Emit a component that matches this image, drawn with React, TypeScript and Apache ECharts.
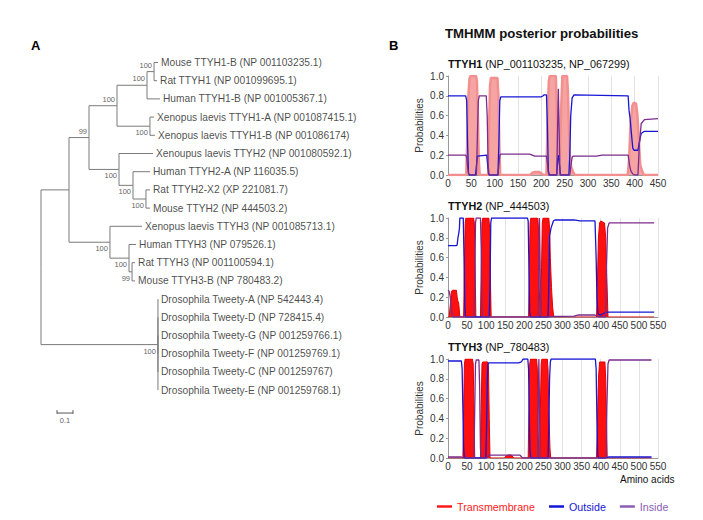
import React, { useEffect, useRef } from "react";
import * as echarts from "echarts";

// ---------- Panel A: phylogenetic tree ----------
const leafNames = [
  "Mouse TTYH1-B (NP 001103235.1)",
  "Rat TTYH1 (NP 001099695.1)",
  "Human TTYH1-B (NP 001005367.1)",
  "Xenopus laevis TTYH1-A (NP 001087415.1)",
  "Xenopus laevis TTYH1-B (NP 001086174)",
  "Xenoupus laevis TTYH2 (NP 001080592.1)",
  "Human TTYH2-A (NP 116035.5)",
  "Rat TTYH2-X2 (XP 221081.7)",
  "Mouse TTYH2 (NP 444503.2)",
  "Xenopus laevis TTYH3 (NP 001085713.1)",
  "Human TTYH3 (NP 079526.1)",
  "Rat TTYH3 (NP 001100594.1)",
  "Mouse TTYH3-B (NP 780483.2)",
  "Drosophila Tweety-A (NP 542443.4)",
  "Drosophila Tweety-D (NP 728415.4)",
  "Drosophila Tweety-G (NP 001259766.1)",
  "Drosophila Tweety-F (NP 001259769.1)",
  "Drosophila Tweety-C (NP 001259767)",
  "Drosophila Tweety-E (NP 001259768.1)",
];
const leafParents = ["A", "A", "B", "C", "C", "E", "F", "G", "G", "I", "J", "K", "K", "L", "L", "L", "L", "L", "L"];
const leafLengths = [0.025, 0.019, 0.081, 0.025, 0.031, 0.2125, 0.106, 0.025, 0.025, 0.2, 0.044, 0.019, 0.019, 0, 0, 0, 0, 0, 0];
const cladeIds = ["A", "B", "C", "D", "E", "F", "G", "H", "I", "J", "K", "L", "M"];
const cladeParents = ["B", "D", "D", "H", "H", "E", "F", "M", "M", "I", "J", "root", "root"];
const cladeLengths = [0.044, 0.1875, 0.206, 0.175, 0.1875, 0.0875, 0.081, 0.125, 0.256, 0.119, 0.019, 0.731, 0.175];
const cladeSupport: (number | null)[] = [100, 100, 100, 100, 100, 100, 100, 99, 100, 100, 99, 100, null];
const scaleBarLength = 0.1;
const scaleBarLabel = "0.1";

// ---------- Panel B: TMHMM posterior probabilities ----------
type P = [number, number][];
const xTicks1 = [0, 450, 50];
const xTicks23 = [0, 550, 50];

const tm1: P = [[0,0],[39,0],[41,0.3],[43,0.75],[46,0.97],[48,1],[60,1],[62,0.95],[64,0.6],[66,0.15],[68,0],[86,0],[88,0.5],[90,0.9],[92,0.98],[106,0.98],[108,0.8],[110,0.3],[112,0],[176,0],[180,0.02],[186,0.03],[196,0.03],[202,0.01],[205,0],[211,0],[213,0.5],[216,0.95],[218,1],[231,1],[233,0.7],[235,0.25],[237,0.1],[240,0.2],[242,0.6],[245,1],[255,1],[257,0.85],[259,0.5],[261,0.2],[264,0.08],[268,0.03],[272,0],[385,0],[388,0.15],[391,0.5],[395,0.7],[398,0.73],[403,0.72],[406,0.6],[409,0.35],[412,0.1],[416,0.04],[420,0],[450,0]];
const outside1: P = [[0,0.8],[38,0.8],[40,0.75],[42,0.3],[44,0.02],[46,0],[59,0],[61,0.1],[63,0.19],[83,0.2],[85,0.1],[87,0.01],[89,0],[107,0],[109,0.3],[111,0.75],[113,0.79],[200,0.79],[204,0.8],[206,0.81],[211,0.81],[213,0.5],[215,0.05],[217,0],[233,0],[235,0.15],[237,0.2],[239,0.1],[241,0],[259,0],[261,0.2],[263,0.6],[266,0.78],[270,0.81],[386,0.8],[388,0.65],[390,0.58],[393,0.42],[396,0.27],[399,0.25],[407,0.25],[410,0.33],[414,0.42],[420,0.44],[450,0.44]];
const inside1: P = [[0,0.2],[38,0.2],[40,0.18],[42,0.08],[44,0.01],[46,0],[61,0],[63,0.4],[65,0.75],[67,0.8],[82,0.8],[84,0.6],[86,0.1],[88,0],[107,0],[109,0.1],[111,0.2],[113,0.21],[175,0.21],[186,0.19],[211,0.19],[213,0.12],[215,0.02],[217,0],[233,0],[235,0.5],[236.5,0.87],[238,0.5],[240,0],[261,0],[263,0.08],[266,0.18],[268,0.19],[318,0.19],[330,0.2],[386,0.2],[389,0.1],[392,0.04],[396,0.01],[400,0],[407,0],[410,0.3],[414,0.52],[421,0.56],[450,0.57]];

const tm2: P = [[0,0],[3,0],[6,0.12],[9,0.26],[12,0.27],[22,0.27],[24,0.2],[26,0.16],[28,0.14],[30,0.05],[31,0],[41,0],[43,0.5],[45,0.95],[47,1],[67,1],[69,0.95],[71,0.5],[73,0],[85,0],[87,0.5],[89,0.95],[91,1],[107,1],[109,0.9],[111,0.4],[113,0],[211,0],[213,0.5],[215,0.95],[217,1],[235,1],[237,0.9],[239,0.3],[241,0],[243,0],[245,0.5],[247,0.95],[249,1],[264,1],[266,0.9],[268,0.6],[271,0.3],[274,0.1],[277,0],[389,0],[391,0.3],[394,0.8],[397,0.95],[400,0.97],[410,0.95],[413,0.8],[416,0.4],[419,0],[540,0]];
const outside2: P = [[0,0.72],[22,0.72],[24,0.73],[26,0.8],[28,0.84],[30,0.9],[31,1],[40,1],[42,0.6],[44,0.1],[46,0],[108,0],[110,0.3],[112,0.95],[114,1],[208,1],[210,0.97],[212,0.5],[214,0.05],[216,0],[262,0],[264,0.3],[266,0.82],[270,0.9],[276,0.97],[280,0.98],[330,0.98],[345,0.97],[385,0.97],[388,0.6],[390,0.2],[393,0.03],[398,0.02],[405,0.03],[410,0.04],[415,0.05],[540,0.05]];
const inside2: P = [[0,0.27],[3,0.26],[6,0.2],[9,0.08],[12,0],[68,0],[70,0.3],[72,0.95],[74,1],[85,1],[87,0.7],[89,0.1],[91,0],[236,0],[238,0.5],[239.5,1],[241,0.6],[243,0.05],[245,0],[265,0],[275,0.005],[330,0.008],[340,0.02],[385,0.02],[390,0.01],[394,0],[413,0],[415,0.5],[418,0.9],[422,0.95],[540,0.95]];

const tm3: P = [[0,0],[39,0],[41,0.5],[43,0.95],[45,1],[64,1],[66,0.95],[68,0.5],[70,0],[85,0],[87,0.5],[89,0.95],[91,0.97],[104,0.97],[106,0.9],[108,0.4],[110,0],[148,0],[152,0.02],[158,0.03],[166,0.03],[170,0.01],[173,0],[210,0],[212,0.5],[214,0.95],[216,1],[232,1],[234,0.9],[236,0.3],[238,0],[240,0],[242,0.5],[244,0.95],[246,1],[260,1],[262,0.9],[264,0.5],[267,0.1],[269,0],[389,0],[391,0.3],[394,0.8],[397,0.97],[411,0.97],[413,0.8],[415,0.4],[417,0],[533,0]];
const outside3: P = [[0,0.98],[35,0.98],[37,0.9],[39,0.5],[41,0.1],[43,0],[99,0],[101,0.3],[103,0.8],[105,0.95],[107,0.96],[185,0.96],[192,0.97],[195,0.99],[197,1],[209,1],[211,0.9],[213,0.4],[215,0.05],[217,0],[262,0],[264,0.3],[266,0.8],[268,0.97],[270,1],[386,1],[388,0.9],[390,0.4],[392,0.05],[394,0],[413,0],[416,0.005],[420,0.01],[533,0.01]];
const inside3: P = [[0,0.01],[35,0.01],[40,0],[68,0],[70,0.5],[72,0.95],[74,0.99],[81,0.99],[83,0.7],[85,0.1],[87,0],[102,0],[105,0.02],[108,0.03],[188,0.03],[193,0.01],[196,0],[235,0],[236.5,0.6],[238,1],[239.5,0.6],[241,0],[414,0],[416,0.5],[419,0.95],[422,0.99],[533,0.99]];

const panelTitles = [
  ["TTYH1", " (NP_001103235, NP_067299)"],
  ["TTYH2", " (NP_444503)"],
  ["TTYH3", " (NP_780483)"],
];
const legendNames = ["Transmembrane", "Outside", "Inside"];

const FONT = "'Liberation Sans', Arial, Helvetica, sans-serif";

function buildTree() {
  const ids = leafNames.map((_, i) => "leaf" + i).concat(cladeIds);
  const parents = (leafParents as string[]).concat(cladeParents);
  const lens = leafLengths.concat(cladeLengths);
  const parentOf: Record<string, string> = {};
  const lenOf: Record<string, number> = {};
  const children: Record<string, string[]> = {};
  ids.forEach((id, i) => {
    parentOf[id] = parents[i];
    lenOf[id] = lens[i];
    (children[parents[i]] = children[parents[i]] || []).push(id);
  });
  const xMemo: Record<string, number> = {};
  const yMemo: Record<string, number> = {};
  const X = (id: string): number => {
    if (id === "root") return 0;
    if (xMemo[id] === undefined) xMemo[id] = X(parentOf[id]) + lenOf[id];
    return xMemo[id];
  };
  const Y = (id: string): number => {
    if (yMemo[id] !== undefined) return yMemo[id];
    if (id.startsWith("leaf")) return (yMemo[id] = Number(id.slice(4)));
    const ys = children[id].map(Y);
    return (yMemo[id] = (Math.min(...ys) + Math.max(...ys)) / 2);
  };
  const branches = ids.map((id) => {
    const p = parentOf[id];
    return { coords: [[X(p), Y(p)], [X(p), Y(id)], [X(id), Y(id)]] };
  });
  const tips = leafNames.map((name, i) => ({ name, value: [X("leaf" + i), i] }));
  const supports = cladeIds
    .map((id, i) => ({ id, s: cladeSupport[i] }))
    .filter((d) => d.s !== null)
    .map(({ id, s }) => {
      const above = Y(id) < Y(parentOf[id]);
      return { name: String(s), value: [X(id), Y(id)], label: { offset: [0, above ? -6.5 : 6.5] } };
    });
  return { branches, tips, supports };
}

function panelAxes(idx: number, ticks: number[], showName: boolean) {
  return {
    x: {
      type: "value", gridIndex: idx, min: ticks[0], max: ticks[1], interval: ticks[2],
      axisLine: { show: true, lineStyle: { color: "#999", width: 1 } },
      axisTick: { show: false },
      axisLabel: { fontSize: 10, color: "#333", margin: 3, fontFamily: FONT },
      splitLine: { show: true, lineStyle: { color: "#e2e2e2", width: 1 } },
    },
    y: {
      type: "value", gridIndex: idx, min: 0, max: 1, interval: 0.2,
      axisLine: { show: true, lineStyle: { color: "#999", width: 1 } },
      axisTick: { show: true, length: 2, lineStyle: { color: "#999" } },
      axisLabel: { fontSize: 10, color: "#333", margin: 4, fontFamily: FONT, formatter: (v: number) => v.toFixed(1) },
      splitLine: { show: false },
      name: showName ? "Probabilities" : "",
      nameLocation: "middle",
      nameGap: 24,
      nameTextStyle: { fontSize: 10, color: "#333", fontFamily: FONT },
    },
  };
}

function buildOption() {
  const { branches, tips, supports } = buildTree();
  const rowH = 18.2;
  const tmColors = ["#f6a3a3", "#ff1010", "#ff1010"];
  const tmLine = ["#f29090", "#e00000", "#e00000"];
  const data = [
    [tm1, outside1, inside1],
    [tm2, outside2, inside2],
    [tm3, outside3, inside3],
  ];
  const gridTops = [76, 218, 359];
  const ax = [panelAxes(1, xTicks1, true), panelAxes(2, xTicks23, true), panelAxes(3, xTicks23, true)];

  const series: any[] = [
    {
      type: "lines", coordinateSystem: "cartesian2d", xAxisIndex: 0, yAxisIndex: 0,
      polyline: true, silent: true, data: branches,
      lineStyle: { color: "#7a7a7a", width: 1, opacity: 1, curveness: 0 },
    },
    {
      type: "lines", coordinateSystem: "cartesian2d", xAxisIndex: 0, yAxisIndex: 0,
      polyline: true, silent: true,
      data: [
        { coords: [[scaleBarLength, 19.26], [scaleBarLength * 2, 19.26]] },
        { coords: [[scaleBarLength, 19.1], [scaleBarLength, 19.3]] },
        { coords: [[scaleBarLength * 2, 19.1], [scaleBarLength * 2, 19.3]] },
      ],
      lineStyle: { color: "#555", width: 1, opacity: 1 },
    },
    {
      type: "scatter", xAxisIndex: 0, yAxisIndex: 0, symbolSize: 0, silent: true,
      data: [{ name: scaleBarLabel, value: [scaleBarLength * 1.5, 19.26] }],
      label: { show: true, position: "bottom", distance: 3, formatter: "{b}", fontSize: 7.5, color: "#333", fontFamily: FONT },
    },
    {
      type: "scatter", xAxisIndex: 0, yAxisIndex: 0, symbolSize: 0, silent: true, data: tips,
      label: { show: true, position: "right", distance: 3, formatter: "{b}", fontSize: 10.2, color: "#1a1a1a", fontFamily: FONT },
    },
    {
      type: "scatter", xAxisIndex: 0, yAxisIndex: 0, symbolSize: 0, silent: true, data: supports,
      label: { show: true, position: "left", distance: 2, formatter: "{b}", fontSize: 7.5, color: "#333", fontFamily: FONT },
    },
  ];

  data.forEach((d, i) => {
    const gi = i + 1;
    series.push({
      type: "line", name: legendNames[0], xAxisIndex: gi, yAxisIndex: gi, data: d[0],
      symbol: "none", showSymbol: false, z: 1,
      lineStyle: { color: tmLine[i], width: i === 0 ? 2.5 : 1 },
      itemStyle: { color: tmColors[i] },
      areaStyle: { color: tmColors[i], opacity: 1, origin: "start" },
    });
    series.push({
      type: "line", name: legendNames[1], xAxisIndex: gi, yAxisIndex: gi, data: d[1],
      symbol: "none", showSymbol: false, z: 3,
      lineStyle: { color: "#1616d6", width: 1.3 },
      itemStyle: { color: "#1616d6" },
    });
    series.push({
      type: "line", name: legendNames[2], xAxisIndex: gi, yAxisIndex: gi, data: d[2],
      symbol: "none", showSymbol: false, z: 4,
      lineStyle: { color: "#7a2c8e", width: 1.3 },
      itemStyle: { color: "#7a2c8e" },
    });
  });

  const titleStyle = (size: number) => ({
    fontSize: size, color: "#111", fontWeight: "normal", fontFamily: FONT,
    rich: { b: { fontSize: size, fontWeight: "bold", color: "#111", fontFamily: FONT } },
  });

  return {
    animation: false,
    backgroundColor: "#fff",
    textStyle: { fontFamily: FONT },
    title: [
      { text: "A", left: 31, top: 39, padding: 0, textStyle: { fontSize: 13, fontWeight: "bold", color: "#000", fontFamily: FONT } },
      { text: "B", left: 389, top: 39, padding: 0, textStyle: { fontSize: 13, fontWeight: "bold", color: "#000", fontFamily: FONT } },
      { text: "TMHMM posterior probabilities", left: 445, top: 27, padding: 0, textStyle: { fontSize: 13.2, fontWeight: "bold", color: "#111", fontFamily: FONT } },
      ...panelTitles.map((t, i) => ({
        text: `{b|${t[0]}}${t[1]}`, left: 448, top: [58, 200, 341][i], padding: 0, textStyle: titleStyle(10.8),
      })),
    ],
    legend: {
      left: 437, top: 501, padding: 0, itemWidth: 15, itemHeight: 2.5, itemGap: 14, icon: "rect",
      selectedMode: false,
      textStyle: { fontSize: 10.7, fontFamily: FONT },
      data: [
        { name: legendNames[0], itemStyle: { color: "#ff1a1a" }, textStyle: { color: "#ff1a1a" } },
        { name: legendNames[1], itemStyle: { color: "#1616d6" }, textStyle: { color: "#1616d6" } },
        { name: legendNames[2], itemStyle: { color: "#8a5cb4" }, textStyle: { color: "#8a5cb4" } },
      ],
    },
    graphic: [
      { type: "text", x: 620, y: 474, style: { text: "Amino acids", fontSize: 10, fill: "#111", fontFamily: FONT } },
    ],
    grid: [
      { left: 41, top: 62.5, width: 320, height: rowH * 20 },
      ...gridTops.map((t) => ({ left: 448, top: t, width: 210, height: 99 })),
    ],
    xAxis: [
      { type: "value", gridIndex: 0, min: 0, max: 2, show: false },
      ...ax.map((a) => a.x),
    ],
    yAxis: [
      { type: "value", gridIndex: 0, min: 0, max: 20, inverse: true, show: false },
      ...ax.map((a) => a.y),
    ],
    series,
  };
}

export default function App() {
  const ref = useRef<HTMLDivElement>(null);
  useEffect(() => {
    if (!ref.current) return;
    const chart = echarts.init(ref.current, null, { renderer: "svg" });
    chart.setOption(buildOption() as any);
    return () => chart.dispose();
  }, []);
  return (
    <div
      ref={ref}
      style={{ position: "absolute", left: 0, top: 0, width: 703, height: 520, background: "#fff" }}
    />
  );
}
